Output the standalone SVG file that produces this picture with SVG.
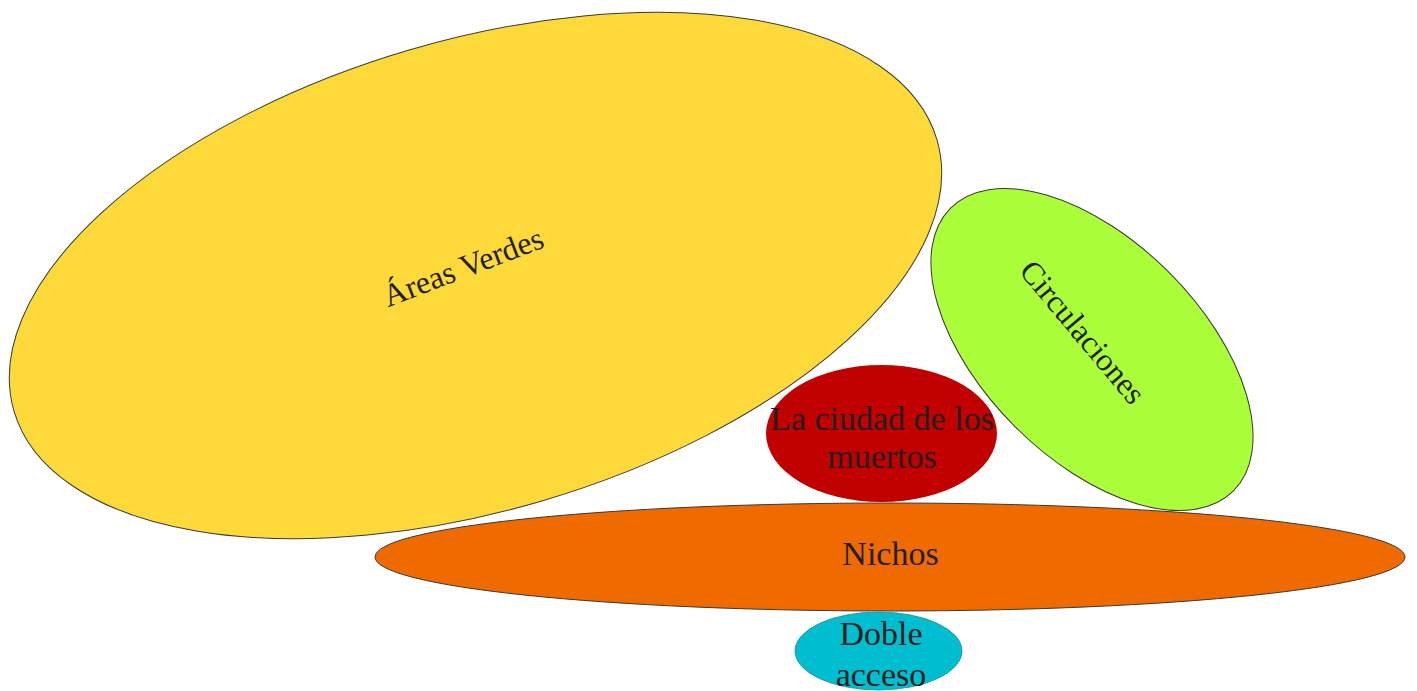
<svg xmlns="http://www.w3.org/2000/svg" width="1417" height="691" viewBox="0 0 1417 691">
<style>
.lbl{font-family:"Liberation Serif","Times New Roman",serif;fill:#231f20;text-anchor:middle}
.edge{stroke:#3a3a3a;stroke-width:1}
</style>
<rect width="1417" height="691" fill="#ffffff"/>
<g id="areas-verdes">
<ellipse cx="475.5" cy="275.5" rx="481" ry="235" transform="rotate(-16.4 475.5 275.5)" fill="#fdda3a" class="edge"/>
<text class="lbl" x="467" y="277" font-size="32" transform="rotate(-21 467 277)">Áreas Verdes</text>
</g>
<g id="circulaciones">
<ellipse cx="1092" cy="349.5" rx="200" ry="109" transform="rotate(45 1092 349.5)" fill="#abff3a" class="edge"/>
<text class="lbl" x="1074.5" y="339" font-size="32" transform="rotate(50 1074.5 339)">Circulaciones</text>
</g>
<g id="ciudad">
<ellipse cx="881.5" cy="433.5" rx="115.5" ry="68.5" fill="#c10000"/>
<text class="lbl" x="882" y="430" font-size="34">La ciudad de los</text>
<text class="lbl" x="882" y="468" font-size="34">muertos</text>
</g>
<g id="nichos">
<ellipse cx="890" cy="557" rx="515" ry="54" fill="#ef6a00" class="edge"/>
<text class="lbl" x="890.5" y="565" font-size="34">Nichos</text>
</g>
<g id="doble-acceso">
<ellipse cx="878.5" cy="651" rx="83.5" ry="39" fill="#00bdd0" stroke="#1f8a95" stroke-width="0.8"/>
<text class="lbl" x="881" y="645" font-size="34">Doble</text>
<text class="lbl" x="881" y="686" font-size="34">acceso</text>
</g>
<g id="connectors"></g>
</svg>
